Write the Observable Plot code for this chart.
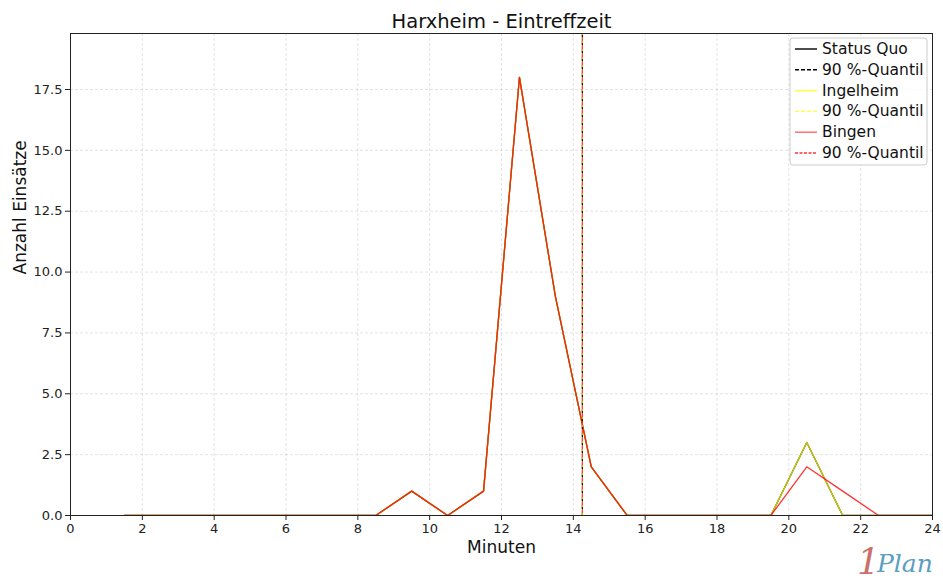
<!DOCTYPE html>
<html><head><meta charset="utf-8">
<script src="https://cdn.jsdelivr.net/npm/d3@7"></script>
<script src="https://cdn.jsdelivr.net/npm/@observablehq/plot@0.6"></script>
<style>body{margin:0;background:#fff;font-family:"DejaVu Sans",sans-serif}</style>
</head><body><div id="chart"></div>
<script>
const minutes = [1.5,2.5,3.5,4.5,5.5,6.5,7.5,8.5,9.5,10.5,11.5,12.5,13.5,14.5,15.5,16.5,17.5,18.5,19.5,20.5,21.5,22.5,23.5,24.5];
const statusQuo = [0,0,0,0,0,0,0,0,1,0,1,18,9,2,0,0,0,0,0,3,0,0,0,0];
const ingelheim = [0,0,0,0,0,0,0,0,1,0,1,18,9,2,0,0,0,0,0,3,0,0,0,0];
const bingen    = [0,0,0,0,0,0,0,0,1,0,1,18,9,2,0,0,0,0,0,2,1,0,0,0];
const quantiles = [
  {name:"Status Quo", q:14.25, color:"black", op:1},
  {name:"Ingelheim", q:14.25, color:"#ffff00", op:0.8},
  {name:"Bingen", q:14.25, color:"red", op:0.8}
];
const xTicks = [0,2,4,6,8,10,12,14,16,18,20,22,24];
const yTicks = [0,2.5,5,7.5,10,12.5,15,17.5];
const title = "Harxheim - Eintreffzeit";
const xLabel = "Minuten";
const yLabel = "Anzahl Einsätze";

const series = [
  {name:"Status Quo", values:statusQuo, color:"black", op:1},
  {name:"Ingelheim", values:ingelheim, color:"#ffff00", op:0.8},
  {name:"Bingen", values:bingen, color:"red", op:0.8}
];
const toRows = s => minutes.map((m,i)=>({x:m, y:s.values[i]}));

const marks = [
  Plot.gridX(xTicks, {stroke:"#b0b0b0", strokeOpacity:0.35, strokeDasharray:"3,2"}),
  Plot.gridY(yTicks, {stroke:"#b0b0b0", strokeOpacity:0.35, strokeDasharray:"3,2"}),
];
for (const s of series) {
  marks.push(Plot.line(toRows(s), {x:"x", y:"y", stroke:s.color, strokeOpacity:s.op, strokeWidth:1.3, clip:true}));
}
quantiles.forEach((q,i)=>{
  marks.push(Plot.ruleX([q.q], {stroke:q.color, strokeOpacity:q.op, strokeWidth:1.2, strokeDasharray:"4,4", strokeDashoffset: i*2}));
});
marks.push(Plot.frame({stroke:"#222"}));
marks.push(Plot.axisX(xTicks, {tickSize:5, fontSize:13, tickPadding:3, label:null, color:"#222"}));
marks.push(Plot.axisY(yTicks, {tickSize:5, fontSize:13, tickPadding:3, label:null, tickFormat:d3.format(".1f"), color:"#222"}));
marks.push(Plot.text([title], {frameAnchor:"top", lineAnchor:"middle", dy:-12, fontSize:19.5, fill:"#111"}));
marks.push(Plot.text([xLabel], {frameAnchor:"bottom", lineAnchor:"middle", dy:32, fontSize:17, fill:"#111"}));
marks.push(Plot.text([yLabel], {frameAnchor:"left", dx:-50, rotate:-90, fontSize:17, fill:"#111"}));

const chart = Plot.plot({
  width:943, height:583,
  marginLeft:70, marginRight:11, marginTop:33, marginBottom:68,
  style:{fontFamily:"DejaVu Sans, sans-serif", background:"#fff"},
  x:{domain:[0,24]},
  y:{domain:[0,19.8]},
  marks
});
document.getElementById("chart").appendChild(chart);

// legend
const svg = d3.select(chart);
const lg = svg.append("g").attr("transform","translate(790,38)").attr("text-anchor","start");
lg.append("rect").attr("width",137).attr("height",127).attr("rx",3)
  .attr("fill","#fff").attr("fill-opacity",0.8).attr("stroke","#ccc");
const entries = [
  {label:"Status Quo", color:"black", dash:null, op:1},
  {label:"90 %-Quantil", color:"black", dash:"4,2", op:1},
  {label:"Ingelheim", color:"#ffff00", dash:null, op:0.8},
  {label:"90 %-Quantil", color:"#ffff00", dash:"4,2", op:0.8},
  {label:"Bingen", color:"red", dash:null, op:0.6},
  {label:"90 %-Quantil", color:"red", dash:"3,1.5", op:0.8}
];
entries.forEach((e,i)=>{
  const y = 11 + i*20.8;
  lg.append("line").attr("x1",5).attr("x2",27).attr("y1",y).attr("y2",y)
    .attr("stroke",e.color).attr("stroke-opacity",e.op).attr("stroke-width",1.4)
    .attr("stroke-dasharray",e.dash);
  lg.append("text").attr("x",32).attr("y",y+5).text(e.label)
    .attr("font-size",15.5).attr("fill","#111").attr("font-family","DejaVu Sans, sans-serif");
});
// logo
const logo = svg.append("g").attr("text-anchor","start");
logo.append("text").attr("x",857).attr("y",574).text("1").attr("font-size",36)
  .attr("font-style","italic").attr("fill","#c9706a").attr("font-family","DejaVu Serif, serif");
logo.append("text").attr("x",877).attr("y",572).text("Plan").attr("font-size",25)
  .attr("font-style","italic").attr("fill","#5a9ec0").attr("font-family","DejaVu Serif, serif");
</script></body></html>
